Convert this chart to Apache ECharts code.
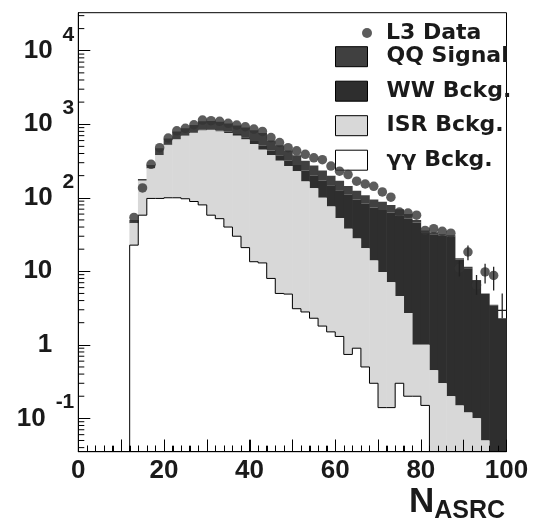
<!DOCTYPE html>
<html><head><meta charset="utf-8">
<script src="https://cdn.jsdelivr.net/npm/echarts@6/dist/echarts.min.js"></script>
<style>html,body{margin:0;padding:0;background:#fff}#c{width:534px;height:527px}</style>
</head><body><div id="c"></div>
<script>
// ---- DATA ----
const binLeft = [12,14,16,18,20,22,24,26,28,30,32,34,36,38,40,42,44,46,48,50,52,54,56,58,60,62,64,66,68,70,72,74,76,78,80,82,84,86,88,90,92,94,96,98];
const binWidth = 2;
// cumulative stack tops (gg, gg+ISR, gg+ISR+WW, total incl. QQ)
const ggTop  = [22.7,58,98,98,100,100,97,89,80,58, 52,40,30,21,13.5,13,8,5,4.9,3.1, 2.8,2.3,1.8,1.5,1.3,0.74,0.9,0.5,0.3,0.14, 0.14,0.3,0.2,0.2,0.15,0,0,0,0,0, 0,0,0,0];
const isrTop = [45,170,250,380,520,620,700,760,820,830, 800,760,700,620,540,450,380,320,270,230, 167,135,100,76,53,38,28,20.6,14,9.8, 7.1,4.6,2.7,1.0,1.0,0.45,0.3,0.2,0.15,0.12, 0.1,0.05,0,0];
const wwTop  = [45.5,171,252,383,525,628,712,775,840,850, 825,790,735,665,590,510,440,380,320,280, 235,200,172,148,127,110,95,83,74,68, 63,57,52,46,34,32,31,30,14.5,11, 7.4,4.9,3.4,2.3];
const qqTop  = [50,180,280,470,640,800,880,980,1100,1110, 1080,1020,960,900,830,760,600,520,440,380, 320,275,235,200,170,145,125,108,95,88, 80,70,60,50,36,34,32,31,15,11.5, 7.6,5,3.5,2.3];
const dataX = [13,15,17,19,21,23,25,27,29,31,33,35,37,39,41,43,45,47,49,51,53,55,57,59,61,63,65,67,69,71,73,75,77,79,81,83,85,87,89,91,93,95,97];
const dataY = [54,136,285,480,650,815,880,985,1140,1120,1095,1030,975,925,860,800,660,565,480,435,390,350,330,270,230,207,168,154,143,120,102,64,62,58,36,38,35,33,11,18.3,6.5,9.8,8.8];
const errX  = [89,91,93,95,97,99];
const errLo = [8.5,14.1,4.8,6.8,5.5,2.3];
const errHi = [14,22.4,8.9,12.7,11.5,5.0];
const crossX = [99];
const crossY = [2.95];
const yMin = 0.0352, yMax = 32900;
const xMin = 0, xMax = 100;

// ---- helpers ----
const FONT = 'Liberation Sans';
const TXT = '#1a1a1a';
function bandSeries(name, lower, upper, fill, z){
  return {
    name, type:'custom', z, clip:true, animation:false, itemStyle:{color:fill},
    data: binLeft.map((e,i)=>[e, e + binWidth, lower ? lower[i] : 0, upper[i]]),
    renderItem:(params, api)=>{
      const x0 = api.value(0), x1 = api.value(1), lo = api.value(2), hi = api.value(3);
      if (!(hi > 0) || hi <= lo) return null;
      const cs = params.coordSys;
      const bottom = cs.y + cs.height + 2;
      const yHi = api.coord([x0, hi])[1];
      const yLo = lo > 0 ? api.coord([x0, lo])[1] : bottom;
      const px0 = api.coord([x0, 1])[0], px1 = api.coord([x1, 1])[0];
      return {type:'rect', shape:{x:px0 - 0.3, y:yHi, width:px1 - px0 + 0.6, height:yLo - yHi},
              style:{fill: fill}};
    }
  };
}
function outlineSeries(name, arr, z){
  return {
    name, type:'custom', z, clip:true, animation:false, itemStyle:{color:'#000'},
    data: binLeft.map((e,i)=>[e, e + binWidth, arr[i], i > 0 ? arr[i-1] : 0]),
    renderItem:(params, api)=>{
      const x0 = api.value(0), x1 = api.value(1), v = api.value(2), prev = api.value(3);
      const cs = params.coordSys;
      const bottom = cs.y + cs.height + 2;
      const Y = val => val > 0 ? api.coord([x0, val])[1] : bottom;
      const px0 = api.coord([x0, 1])[0], px1 = api.coord([x1, 1])[0];
      const ch = [];
      if (v > 0) ch.push({type:'line', shape:{x1:px0, y1:Y(v), x2:px1, y2:Y(v)}, style:{stroke:'#000', lineWidth:1}});
      if (v > 0 || prev > 0) ch.push({type:'line', shape:{x1:px0, y1:Y(prev), x2:px0, y2:Y(v)}, style:{stroke:'#000', lineWidth:1}});
      return {type:'group', children:ch};
    }
  };
}
const yMinorVals = [];
for (let d=-2; d<=4; d++) for (let k=2; k<=9; k++){ const v=k*Math.pow(10,d); if (v>yMin && v<yMax) yMinorVals.push(v); }
const xTickVals = [];
for (let v=xMin+2; v<xMax; v+=2) xTickVals.push(v);

const chart = echarts.init(document.getElementById('c'), null, {renderer:'canvas'});
chart.setOption({
  animation:false,
  backgroundColor:'#fff',
  grid:{left:78.3, top:12.7, right:27.5, bottom:75.3, show:true, borderColor:'#000', borderWidth:1, backgroundColor:'transparent'},
  title:{
    text:'{n|N}{s|ASRC}', left:404, top:475,
    textStyle:{rich:{
      n:{fontSize:35, fontWeight:'bold', fontFamily:FONT, color:TXT},
      s:{fontSize:25, fontWeight:'bold', fontFamily:FONT, color:TXT, padding:[19,0,0,0]}
    }}
  },
  legend:[
    {data:[{name:'L3 Data', icon:'circle', itemStyle:{color:'#333'}}],
     orient:'vertical', left:362, top:22, padding:0, itemWidth:10, itemHeight:10, selectedMode:false,
     textStyle:{color:TXT, rich:{a:{fontSize:22, fontWeight:'bold', fontFamily:'DejaVu Sans', color:TXT, padding:[0,0,0,9]}}},
     formatter: n=>'{a|'+n+'}'},
    {data:[
      {name:'QQ Signal', icon:'rect', itemStyle:{color:'#404040', borderColor:'#000', borderWidth:1}},
      {name:'WW Bckg.', icon:'rect', itemStyle:{color:'#2e2e2e', borderColor:'#000', borderWidth:1}},
      {name:'ISR Bckg.', icon:'rect', itemStyle:{color:'#d8d8d8', borderColor:'#000', borderWidth:1}},
      {name:'γγ Bckg.', icon:'rect', itemStyle:{color:'#ffffff', borderColor:'#000', borderWidth:1}}],
     orient:'vertical', left:335, top:45.7, padding:0, itemWidth:32, itemHeight:20, itemGap:12.5, selectedMode:false,
     textStyle:{color:TXT, lineHeight:20, rich:{a:{fontSize:22, fontWeight:'bold', fontFamily:'DejaVu Sans', color:TXT, padding:[0,0,0,14], lineHeight:20}}},
     formatter: n=>'{a|'+n+'}'}
  ],
  xAxis:{type:'value', min:xMin, max:xMax, interval:10, z:10,
    axisLine:{show:true, lineStyle:{color:'#000', width:1}},
    axisTick:{show:true, inside:true, length:12, lineStyle:{color:'#000', width:1}},
    minorTick:{show:true, splitNumber:5, length:6, lineStyle:{color:'#000', width:1}},
    splitLine:{show:false}, minorSplitLine:{show:false},
    axisLabel:{margin:6, fontSize:26, fontWeight:'bold', fontFamily:FONT, color:TXT,
      formatter: v => (v % 20 === 0 ? String(v) : '')}
  },
  yAxis:{type:'log', logBase:10, min:yMin, max:yMax, z:10,
    axisLine:{show:true, lineStyle:{color:'#000', width:1}},
    axisTick:{show:true, inside:true, length:12, lineStyle:{color:'#000', width:1}},
    splitLine:{show:false},
    axisLabel:{margin:4, align:'right', showMinLabel:false, showMaxLabel:false,
      formatter: v => {
        const e = Math.round(Math.log10(v));
        if (Math.abs(Math.log10(v) - e) > 1e-6) return '';
        if (e === 0) return '{b|1}{p|\u00a0}';
        if (e === 1) return '{b|10}{p|\u00a0}';
        return '{b|10}{s|' + e + '}';
      },
      rich:{
        b:{fontSize:26, fontWeight:'bold', fontFamily:FONT, color:TXT},
        s:{fontSize:21, fontWeight:'bold', fontFamily:FONT, color:TXT, padding:[0,0,32,10]},
        p:{width:22, fontSize:21}
      }}
  },
  series:[
    bandSeries('QQ Signal', wwTop, qqTop, '#404040', 2),
    bandSeries('WW Bckg.', isrTop, wwTop, '#2e2e2e', 2),
    bandSeries('ISR Bckg.', ggTop, isrTop, '#d8d8d8', 2),
    outlineSeries('γγ Bckg.', ggTop, 5),
    {name:'L3 Data', type:'scatter', z:6, symbol:'circle', symbolSize:9.5, animation:false,
     itemStyle:{color:'#333'}, data: dataX.map((x,i)=>[x, dataY[i]])},
    {name:'err', type:'custom', z:7, animation:false, clip:true,
     data: errX.map((x,i)=>[x, errLo[i], errHi[i]]),
     renderItem:(params, api)=>{
       const p1 = api.coord([api.value(0), api.value(1)]);
       const p2 = api.coord([api.value(0), api.value(2)]);
       return {type:'line', shape:{x1:p1[0], y1:p1[1], x2:p2[0], y2:p2[1]}, style:{stroke:'#222', lineWidth:1.3}};
     }},
    {name:'cross', type:'custom', z:7, animation:false, clip:true,
     data: crossX.map((x,i)=>[x - binWidth/2, x + binWidth/2, crossY[i]]),
     renderItem:(params, api)=>{
       const p1 = api.coord([api.value(0), api.value(2)]);
       const p2 = api.coord([api.value(1), api.value(2)]);
       return {type:'line', shape:{x1:p1[0], y1:p1[1], x2:p2[0], y2:p2[1]}, style:{stroke:'#222', lineWidth:1.3}};
     }},
    {name:'yminor', type:'custom', z:20, animation:false, clip:false,
     data: yMinorVals.map(v=>[0, v]),
     renderItem:(params, api)=>{
       const p = api.coord([0, api.value(1)]);
       return {type:'line', shape:{x1:p[0], y1:p[1], x2:p[0]+6, y2:p[1]}, style:{stroke:'#000', lineWidth:1}};
     }}
  ]
});
// extra x ticks placed through the chart's own scale (graphic layer)
const tickEls = xTickVals.map(v=>{
  const p = chart.convertToPixel({gridIndex:0}, [v, yMin]);
  const len = (v % 10 === 0) ? 12 : 6;
  const x = Math.round(p[0]) + 0.5;
  return {type:'line', z:1, silent:true, shape:{x1:x, y1:p[1], x2:x, y2:p[1]-len}, style:{stroke:'#000', lineWidth:1}};
});
chart.setOption({graphic:{elements:tickEls}});
</script></body></html>
